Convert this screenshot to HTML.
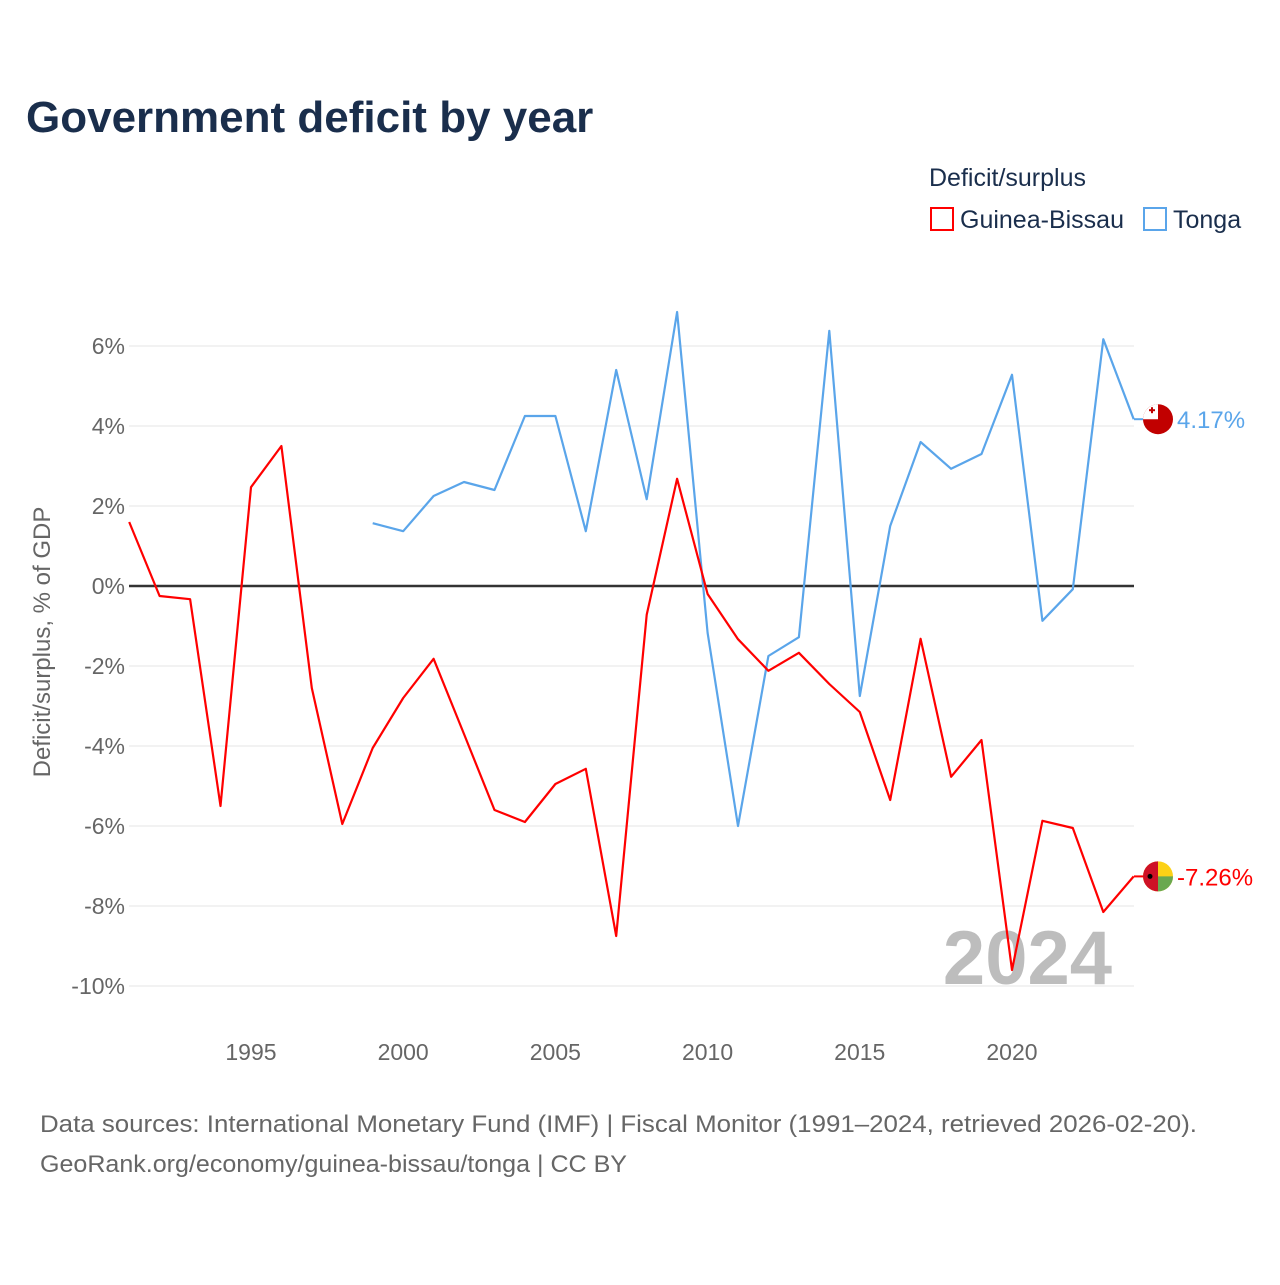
<!DOCTYPE html>
<html><head><meta charset="utf-8"><style>
body{margin:0;background:#fff;font-family:"Liberation Sans",sans-serif;}
svg text{font-family:"Liberation Sans",sans-serif;}
</style></head><body>
<svg id="chart" width="1280" height="1280" viewBox="0 0 1280 1280" xmlns="http://www.w3.org/2000/svg">
<rect width="1280" height="1280" fill="#fff"/>
<text x="26" y="132" font-size="44" font-weight="bold" fill="#1a2e4c">Government deficit by year</text>
<text x="929" y="186" font-size="25" fill="#1a2e4c">Deficit/surplus</text>
<g><rect x="931" y="208" width="22" height="22" fill="none" stroke="#ff0000" stroke-width="2"/><text x="960" y="228" font-size="25" fill="#1a2e4c">Guinea-Bissau</text></g>
<g><rect x="1144" y="208" width="22" height="22" fill="none" stroke="#5aa5ea" stroke-width="2"/><text x="1173" y="228" font-size="25" fill="#1a2e4c">Tonga</text></g>
<g id="grid"></g>
<text x="1112" y="984" font-size="76" font-weight="bold" fill="#bdbdbd" text-anchor="end">2024</text>
<g id="marks"></g>
<text transform="translate(50,642) rotate(-90)" font-size="24" fill="#666" text-anchor="middle">Deficit/surplus, % of GDP</text>
<text x="40" y="1132" font-size="24" fill="#666" textLength="1157" lengthAdjust="spacingAndGlyphs">Data sources: International Monetary Fund (IMF) | Fiscal Monitor (1991–2024, retrieved 2026-02-20).</text>
<text x="40" y="1172" font-size="24" fill="#666" textLength="587" lengthAdjust="spacingAndGlyphs">GeoRank.org/economy/guinea-bissau/tonga | CC BY</text>
</svg>
<script>
const years=[];for(let y=1991;y<=2024;y++)years.push(y);
const guineaBissau=[1.6,-0.25,-0.33,-5.5,2.47,3.5,-2.55,-5.95,-4.05,-2.8,-1.82,-3.7,-5.6,-5.9,-4.95,-4.57,-8.75,-0.72,2.68,-0.2,-1.33,-2.12,-1.67,-2.45,-3.15,-5.35,-1.32,-4.77,-3.85,-9.6,-5.87,-6.05,-8.15,-7.26];
const tonga=[null,null,null,null,null,null,null,null,1.57,1.37,2.25,2.6,2.4,4.25,4.25,1.37,5.4,2.17,6.85,-1.17,-6.0,-1.75,-1.28,6.38,-2.75,1.5,3.6,2.93,3.3,5.28,-0.87,-0.08,6.17,4.17];
const yTicks=[6,4,2,0,-2,-4,-6,-8,-10];
const xTicks=[1995,2000,2005,2010,2015,2020];
const X=y=>129.2+(y-1991)*30.44;
const Y=v=>586-v*40;
const NS="http://www.w3.org/2000/svg";
function mk(tag,attrs,parent){const e=document.createElementNS(NS,tag);for(const k in attrs)e.setAttribute(k,attrs[k]);parent.appendChild(e);return e;}
const grid=document.getElementById('grid'),marks=document.getElementById('marks');
yTicks.forEach(t=>{
 const l=mk('line',{x1:129,x2:1134,y1:Y(t),y2:Y(t),stroke:t===0?'#333':'#e6e6e6','stroke-width':t===0?2.5:1},grid);
 
 
 const tx=mk('text',{x:125,y:Y(t)+8,'font-size':23,fill:'#666','text-anchor':'end'},grid);tx.textContent=t+'%';
 
 
});
xTicks.forEach(t=>{
 const tx=mk('text',{x:X(t),y:1060,'font-size':23,fill:'#666','text-anchor':'middle'},grid);tx.textContent=t;
 
 
});
function line(vals,color,name){
 let d='';let started=false;
 vals.forEach((v,i)=>{if(v===null)return;d+=(started?'L':'M')+X(years[i]).toFixed(1)+','+Y(v).toFixed(1);started=true;});
 const p=mk('path',{d:d,fill:'none',stroke:color,'stroke-width':2.2,'stroke-linejoin':'round'},marks);
 
 
}
line(tonga,'#5aa5ea','tonga-line');
line(guineaBissau,'#ff0000','guinea-bissau-line');
function endLabel(v,color,name,flag){
 const y=Y(v);
 const g=mk('g',{},marks);
 
 
 mk('line',{x1:1134,x2:1146,y1:y,y2:y,stroke:color,'stroke-width':2},g);
 if(flag==='to'){
  mk('circle',{cx:1158,cy:y,r:15,fill:'#c10000'},g);
  mk('path',{d:`M1143,${y}A15,15 0 0 1 1158,${y-15}L1158,${y}Z`,fill:'#fff'},g);
  mk('rect',{x:1149,y:y-10,width:6,height:2,fill:'#c10000'},g);
  mk('rect',{x:1151,y:y-12,width:2,height:6,fill:'#c10000'},g);
 }else{
  mk('circle',{cx:1158,cy:y,r:15,fill:'#fcd116'},g);
  mk('path',{d:`M1158,${y}L1173,${y}A15,15 0 0 1 1158,${y+15}Z`,fill:'#6aa84f'},g);
  mk('path',{d:`M1158,${y-15}A15,15 0 0 0 1158,${y+15}Z`,fill:'#ce1126'},g);
  mk('circle',{cx:1150,cy:y,r:2.5,fill:'#000'},g);
 }
 const t=mk('text',{x:1177,y:y+9,'font-size':24,fill:color},g);t.textContent=v.toFixed(2)+'%';
}
endLabel(tonga[tonga.length-1],'#5aa5ea','tonga-end-label','to');
endLabel(guineaBissau[guineaBissau.length-1],'#ff0000','guinea-bissau-end-label','gb');
</script>
</body></html>
